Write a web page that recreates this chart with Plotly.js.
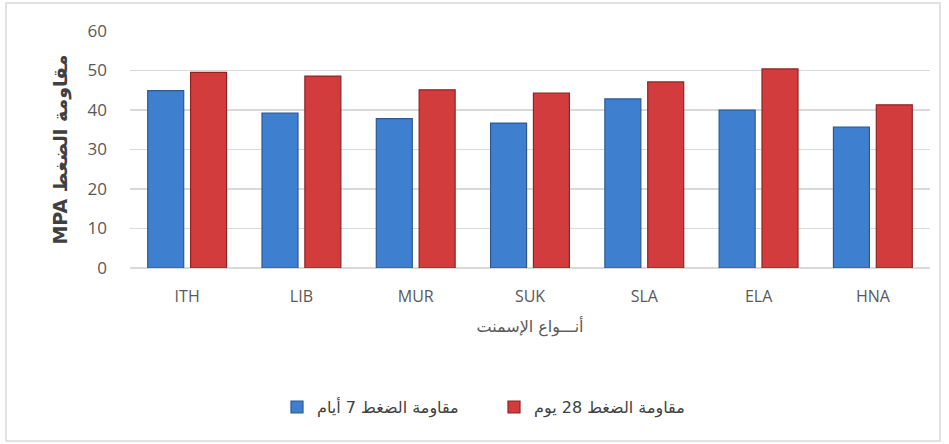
<!DOCTYPE html>
<html>
<head>
<meta charset="utf-8">
<script src="https://cdn.plot.ly/plotly-3.0.1.min.js"></script>
<style>html,body{margin:0;padding:0;background:#fff;}#chart{width:949px;height:444px;}</style>
</head>
<body>
<div id="chart"></div>
<script>
const categories = ["ITH", "LIB", "MUR", "SUK", "SLA", "ELA", "HNA"];
const strength7 = [44.9, 39.2, 37.8, 36.7, 42.8, 40.0, 35.7];
const strength28 = [49.5, 48.6, 45.1, 44.3, 47.1, 50.4, 41.3];
const name7 = "مقاومة الضغط 7 أيام";
const name28 = "مقاومة الضغط 28 يوم";
const yTitle = "MPA مقاومة الضغط";
const xTitle = "أنـــواع الإسمنت";

const traces = [
  {type: "bar", x: categories, y: strength7, name: name7,
   marker: {color: "#3f7fcf", line: {color: "#2a5a96", width: 1.2}}},
  {type: "bar", x: categories, y: strength28, name: name28,
   marker: {color: "#d23c3c", line: {color: "#8e2424", width: 1.2}}}
];

const layout = {
  width: 949, height: 444,
  margin: {l: 130, r: 19, t: 31, b: 176},
  paper_bgcolor: "#ffffff", plot_bgcolor: "#ffffff",
  font: {family: "Open Sans, DejaVu Sans, sans-serif", color: "#595959", size: 16},
  barmode: "group", bargap: 0.25, bargroupgap: 0.16,
  showlegend: true,
  legend: {orientation: "h", x: 0.455, xanchor: "center", y: -0.587, yanchor: "middle",
           font: {family: "DejaVu Sans, sans-serif", size: 16, color: "#404040"},
           itemwidth: 30, entrywidth: 172, entrywidthmode: "pixels", traceorder: "normal"},
  xaxis: {type: "category", showgrid: false, zeroline: false, showline: false,
          ticks: "", ticklabelstandoff: 17, tickfont: {size: 16, color: "#595959"},
          title: {text: xTitle, standoff: 14, font: {family: "DejaVu Sans, sans-serif", size: 16, color: "#595959"}}},
  yaxis: {range: [0, 60], dtick: 10, showgrid: true, gridcolor: "#d9d9d9", gridwidth: 1.5,
          zeroline: true, zerolinecolor: "#d9d9d9", zerolinewidth: 1.5, showline: false,
          ticks: "", ticklabelstandoff: 22, tickfont: {size: 17, color: "#595959"},
          title: {text: yTitle, standoff: 14, font: {family: "DejaVu Sans, sans-serif", size: 19, color: "#404040", weight: "bold"}}},
  shapes: [{type: "rect", xref: "paper", yref: "paper",
            x0: -0.155, x1: 1.0125, y0: -0.73, y1: 1.118,
            line: {color: "#d9d9d9", width: 1.5}, fillcolor: "rgba(0,0,0,0)", layer: "below"}]
};

Plotly.newPlot("chart", traces, layout, {displayModeBar: false, staticPlot: true});
</script>
</body>
</html>
